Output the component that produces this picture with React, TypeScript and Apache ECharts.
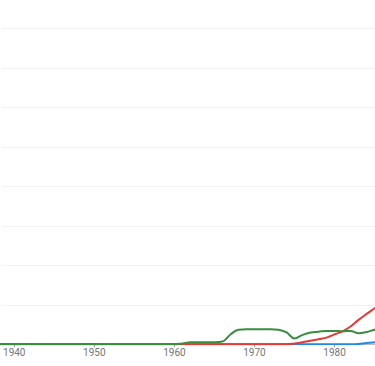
import React, { useEffect, useRef } from "react";
import * as echarts from "echarts";

const years = [1938, 1940, 1945, 1950, 1955, 1959, 1960, 1961, 1962, 1963, 1964, 1965, 1966, 1967, 1968, 1969, 1970, 1971, 1972, 1973, 1974, 1975, 1976, 1977, 1978, 1979, 1980, 1981, 1982, 1983, 1984, 1985, 1986];
const greenValues = [0, 0, 0, 0, 0, 0, 0, 0.02, 0.05, 0.05, 0.05, 0.05, 0.07, 0.25, 0.37, 0.38, 0.38, 0.38, 0.38, 0.37, 0.3, 0.15, 0.24, 0.3, 0.32, 0.34, 0.34, 0.33, 0.34, 0.28, 0.31, 0.37, 0.4];
const redValues = [0, 0, 0, 0, 0, 0, 0, 0, 0, 0, 0, 0, 0, 0, 0, 0, 0, 0, 0, 0, 0.0, 0.02, 0.05, 0.09, 0.13, 0.17, 0.25, 0.33, 0.45, 0.62, 0.77, 0.91, 1.05];
const blueValues = [0, 0, 0, 0, 0, 0, 0, 0, 0, 0, 0, 0, 0, 0, 0, 0, 0, 0, 0, 0, 0, 0, 0, 0, 0, 0, 0, 0, 0, 0.01, 0.035, 0.05, 0.06];
const xTicks = [1940, 1950, 1960, 1970, 1980];

const pairs = (vals: number[]) => years.map((y, i) => [y, vals[i]]);

export default function App() {
  const ref = useRef<HTMLDivElement>(null);
  useEffect(() => {
    if (!ref.current) return;
    const chart = echarts.init(ref.current, undefined, { renderer: "svg" });
    const lineSeries = (name: string, vals: number[], color: string) => ({
      name,
      type: "line",
      data: pairs(vals),
      smooth: 0.4,
      showSymbol: false,
      symbol: "none",
      lineStyle: { color, width: 2 },
      itemStyle: { color },
    });
    chart.setOption({
      animation: false,
      grid: { left: 0, right: 0, top: 28.7, bottom: 21.7 },
      xAxis: {
        type: "value",
        min: 1938.47,
        max: 1985.05,
        axisLine: { show: true, lineStyle: { color: "#bdbdbd", width: 1 } },
        axisTick: { show: true, length: 3, customValues: xTicks, lineStyle: { color: "#9e9e9e" } },
        axisLabel: {
          customValues: xTicks,
          color: "#757575",
          fontSize: 10,
          fontFamily: "Roboto",
          margin: 3,
          formatter: (v: number) => String(v),
        },
        splitLine: { show: false },
      },
      yAxis: {
        type: "value",
        min: 0,
        max: 8,
        interval: 1,
        axisLine: { show: false },
        axisTick: { show: false },
        axisLabel: { show: false },
        splitLine: { show: true, lineStyle: { color: "#f2f2f2", width: 1 } },
      },
      series: [
        lineSeries("blue", blueValues, "#1e88e5"),
        lineSeries("red", redValues, "#e53935"),
        lineSeries("green", greenValues, "#388e3c"),
      ],
    });
    return () => chart.dispose();
  }, []);
  return (
    <div
      ref={ref}
      style={{ position: "fixed", left: 0, top: 0, width: 375, height: 366, background: "#fff" }}
    />
  );
}
